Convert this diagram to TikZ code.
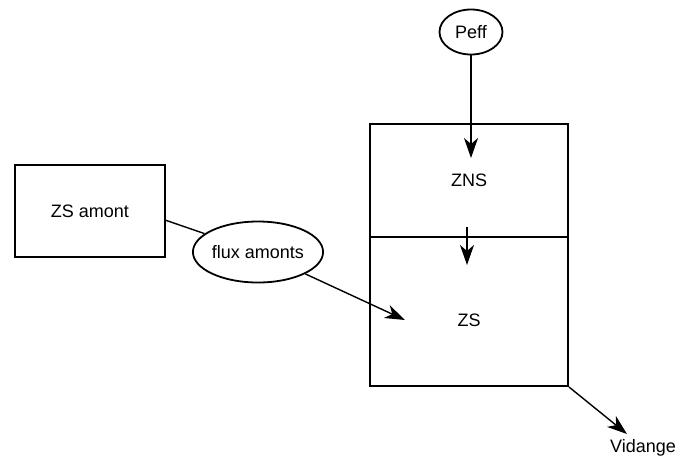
\documentclass[tikz,border=0pt]{standalone}
\usepackage{fontspec}
\setmainfont{Liberation Sans}
\usepackage{tikz}
\usetikzlibrary{arrows.meta, positioning, shapes.geometric}

\begin{document}
\begin{tikzpicture}[x=1pt, y=-1pt, line join=miter,
    every node/.style={font=\fontsize{18}{22}\selectfont},
    bloc/.style={draw, line width=2pt, inner sep=0pt},
    bulle/.style={draw, ellipse, line width=1.8pt, inner sep=0pt},
    fleche/.style={line width=1.4pt, -{Stealth[length=20pt, width=14pt, inset=6pt]}},
    trait/.style={line width=1.4pt}]
      \useasboundingbox (0,0) rectangle (677,459);
      \node[bloc, minimum width=150pt, minimum height=92pt] (zsamont) at (90,211) {ZS amont};
      \node[bloc, minimum width=198pt, minimum height=113pt] (zns) at (469,180.5) {ZNS};
      \node[bloc, minimum width=198pt, minimum height=149pt] (zs) at (469,311.5) {};
      \node (zslabel) at (469,320) {ZS};
      \node[bulle, minimum width=63pt, minimum height=45pt] (peff) at (471,32) {Peff};
      \node[bulle, minimum width=115pt, minimum height=61pt] (flux) at (258,252) {flux amonts};
      \node (vidange) at (643,448) {Vidange};
      \coordinate (pin) at (471,158);
      \coordinate (znsout) at (467,227);
      \coordinate (zsin) at (467,265);
      \coordinate (zsout) at (165,220);
      \coordinate (fluxin) at (405,320);
      \coordinate (vidin) at (627,434);
      \draw[fleche] (peff) -- (pin);
      \draw[fleche] (znsout) -- (zsin);
      \draw[trait] (zsout) -- (flux);
      \draw[fleche] (flux) -- (fluxin);
      \draw[fleche] (zs.south east) -- (vidin);
    \end{tikzpicture}
\end{document}
